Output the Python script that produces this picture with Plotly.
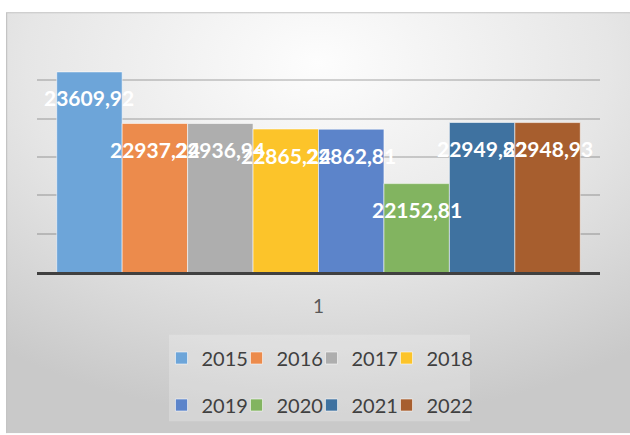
import base64
import plotly.graph_objects as go

# ---- data ----
categories = ["1"]
years = ["2015", "2016", "2017", "2018", "2019", "2020", "2021", "2022"]
values = [23609.92, 22937.24, 22936.94, 22865.24, 22862.81, 22152.81, 22949.82, 22948.93]
colors = ["#6DA5D9", "#EC8B4C", "#AEAEAE", "#FCC42A", "#5C84CA", "#82B460", "#3F72A0", "#A75E2E"]
y_min, y_max, y_step = 21000, 24000, 500

W, H = 630, 435
ML, MR, MT, MB = 37, 30, 42, 162
BARGAP = 0.07

pw = W - ML - MR
ph = H - MT - MB

# legend layout (2 rows x 4 columns, pixel positions of text starts / row centres)
LEG_COLS_PX = [198, 273, 348, 423]
LEG_ROWS_PX = [358, 405]

# chart-area background: radial gradient as an SVG image
svg = f'''<svg xmlns="http://www.w3.org/2000/svg" width="624" height="423" viewBox="0 0 624 423">
<defs><radialGradient id="g" cx="0.5" cy="0.12" r="0.85" fx="0.5" fy="0.12">
<stop offset="0" stop-color="#fdfdfd"/><stop offset="0.55" stop-color="#e6e6e6"/><stop offset="1" stop-color="#c9c9c9"/>
</radialGradient></defs>
<rect x="0" y="0" width="624" height="423" fill="url(#g)"/>
<path d="M0.5,423 V0.5 H624" fill="none" stroke="#c4c4c4" stroke-width="1.5"/>
</svg>'''
uri = "data:image/svg+xml;base64," + base64.b64encode(svg.encode()).decode()

fig = go.Figure()
n = len(years)
legend_layouts = {}
for i, (yr, v, c) in enumerate(zip(years, values, colors)):
    lname = "legend" if i == 0 else f"legend{i + 1}"
    fig.add_trace(go.Bar(
        x=categories, y=[v], name=yr,
        marker=dict(color=c, line=dict(color="rgba(255,255,255,0.55)", width=1)),
        legend=lname,
    ))
    col, row = i % 4, i // 4
    legend_layouts[lname] = dict(
        orientation="h", xanchor="left", yanchor="middle",
        x=(LEG_COLS_PX[col] - 36.5 - ML) / pw,
        y=(H - LEG_ROWS_PX[row] - MB) / ph,
        font=dict(family="Lato", size=20, color="#404040"),
        bgcolor="rgba(0,0,0,0)",
        itemclick=False, itemdoubleclick=False,
    )

# data labels (Excel "inside end" style, drawn above all bars)
slot = (1 - BARGAP) / n
for i, v in enumerate(values):
    fig.add_annotation(
        x=0 + (i - (n - 1) / 2) * slot, y=v, xref="x", yref="y",
        text=f"{v:.2f}".replace(".", ","), showarrow=False,
        yshift=-26, yanchor="middle", xanchor="center",
        font=dict(family="Lato", size=21, color="white", weight="bold"),
    )

# faint legend box (style only)
fig.add_shape(
    type="rect", xref="paper", yref="paper", layer="below",
    x0=(169 - ML) / pw, x1=(470 - ML) / pw,
    y0=(H - 423 - MB) / ph, y1=(H - 336 - MB) / ph,
    line=dict(width=0), fillcolor="rgba(255,255,255,0.22)",
)

fig.update_layout(
    width=W, height=H,
    margin=dict(l=ML, r=MR, t=MT, b=MB, pad=0),
    paper_bgcolor="white", plot_bgcolor="rgba(0,0,0,0)",
    barmode="group", bargap=BARGAP, bargroupgap=0,
    showlegend=True,
    xaxis=dict(
        type="category", showgrid=False, zeroline=False,
        showline=True, linecolor="#404040", linewidth=3,
        ticks="", ticklabelstandoff=15,
        tickfont=dict(family="Lato", size=19, color="#595959"),
    ),
    yaxis=dict(
        range=[y_min, y_max], dtick=y_step, tick0=y_min,
        showticklabels=False, ticks="", zeroline=False,
        showgrid=True, gridcolor="rgba(0,0,0,0.17)", gridwidth=2,
    ),
    images=[dict(
        source=uri, xref="paper", yref="paper",
        x=(6 - ML) / pw, y=(H - 12 - MB) / ph,
        sizex=(W - 6) / pw, sizey=(H - 12) / ph,
        xanchor="left", yanchor="top", sizing="stretch", layer="below",
    )],
    **legend_layouts,
)

fig.write_html(
    "out.html",
    config={"displayModeBar": False},
    post_script="document.body.style.margin='0';document.body.style.overflow='hidden';",
)
